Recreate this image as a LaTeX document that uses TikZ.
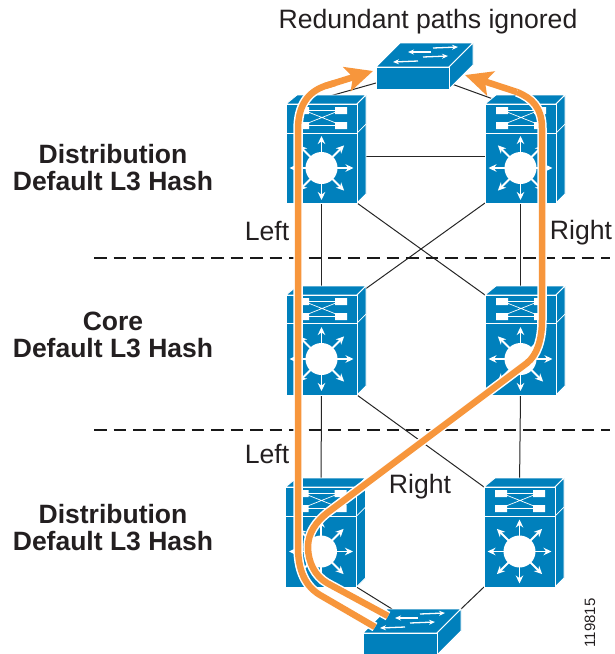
\documentclass[tikz,border=0pt]{standalone}
\usepackage{fontspec}
\setmainfont{Liberation Sans}
\usetikzlibrary{arrows.meta,backgrounds}
\definecolor{ciscoblue}{HTML}{0080BC}
\definecolor{pathorange}{HTML}{F7963C}
\definecolor{inktext}{HTML}{231F20}
\tikzset{
  anchorbox/.style={draw=none,inner sep=0pt,outer sep=0pt,rectangle},
  face/.style={fill=ciscoblue,draw=white,line width=0.9pt,line join=round},
  thinwhite/.style={draw=white,line width=0.7pt},
  whitearrow/.style={draw=white,line width=1.8pt,-{Stealth[length=8pt,width=7.5pt]}},
  swarrow/.style={draw=white,line width=1.3pt,-{Stealth[length=6pt,width=5pt]}},
  link/.style={draw=black!85,line width=1pt},
  zonedash/.style={draw=black!90,line width=2.4pt,dash pattern=on 12.5pt off 7pt},
  halo/.style={draw=white,line width=9.5pt},
  route/.style={draw=pathorange,line width=6.5pt},
  routetip/.style={draw=pathorange,line width=6.5pt,-{Stealth[length=27pt,width=25pt,inset=6pt]}},
  grouplabel/.style={font=\bfseries\fontsize{26.5}{27}\selectfont,text=inktext,align=center,anchor=center,inner sep=0pt},
  plainlabel/.style={font=\fontsize{26.6}{27}\selectfont,text=inktext,anchor=center,inner sep=0pt},
}
% name, x0, ytop, ysplit, ybot
\newcommand{\mlsdevice}[5]{%
  \pgfmathsetmacro{\ymid}{(#4+#5)/2}%
  \pgfmathsetmacro{\xmid}{#2+35.5}%
  \pgfmathsetmacro{\ycy}{(#3+#5)/2}%
  \node[anchorbox,minimum width=71pt,minimum height={(#5-#3)*1pt}] (#1) at (\xmid,\ycy) {};
  \begin{scope}[shift={(#2,0)}]
    \path[face] (0,#3) -- (11,#3-9) -- (80,#3-9) -- (71,#3) -- cycle;
    \path[face] (71,#3) -- (80,#3-9) -- (80,#5-9) -- (71,#5) -- cycle;
    \draw[thinwhite] (71,#4) -- (80,#4-9);
    \path[face] (0,#3) rectangle (71,#4);
    \path[face] (0,#4) rectangle (71,#5);
    \draw[thinwhite] (17,#3+6) -- (55,#3+6) (17,#3+21) -- (55,#3+21);
    \draw[thinwhite] (17,#3+6) -- (55,#3+21) (17,#3+21) -- (55,#3+6);
    \fill[white] (11,#3+3) rectangle (23,#3+10) (49,#3+3) rectangle (61,#3+10)
                 (11,#3+18) rectangle (23,#3+25) (49,#3+18) rectangle (61,#3+25);
    \begin{scope}[shift={(35.5,\ymid)}]
      \fill[white] (0,0) circle (16pt);
      \foreach \ang in {0,45,...,315}
        \draw[whitearrow] (\ang:15pt) -- (\ang:32pt);
    \end{scope}
  \end{scope}
}
% name, x0, y0 (front top-left), width
\newcommand{\swdevice}[4]{%
  \pgfmathsetmacro{\xmid}{#2+#4/2}%
  \pgfmathsetmacro{\ycy}{#3+11}%
  \node[anchorbox,minimum width=#4 pt,minimum height=22pt] (#1) at (\xmid,\ycy) {};
  \begin{scope}[shift={(#2,#3)}]
    \path[face] (0,0) -- (24,-24) -- (#4+24,-24) -- (#4,0) -- cycle;
    \path[face] (#4,0) -- (#4+24,-24) -- (#4+24,-2) -- (#4,22) -- cycle;
    \path[face] (0,0) rectangle (#4,22);
    \draw[swarrow] (55,-15) -- (32,-15);
    \draw[swarrow] (57,-19) -- (82,-20);
    \draw[swarrow] (47,-10) -- (72,-11);
    \draw[swarrow] (42,-6) -- (17,-5);
  \end{scope}
}
\begin{document}
\begin{tikzpicture}[x=1pt,y=-1pt]
\useasboundingbox (0,0) rectangle (614,654);

\mlsdevice{dtl}{286}{104}{133}{203}
\mlsdevice{dtr}{485}{104}{133}{203}
\mlsdevice{cl}{286}{295}{323}{395}
\mlsdevice{cr}{485}{295}{323}{395}
\mlsdevice{dbl}{285.5}{487}{516}{587}
\mlsdevice{dbr}{484}{487}{516}{587}
\swdevice{swt}{376}{67}{73}
\swdevice{swb}{363}{633}{74}

\begin{scope}[on background layer]
  \draw[link] ([yshift=5.6pt]dtl.north) -- ([yshift=-5pt]swt.west);
  \draw[link] ([yshift=-5pt]dtr.north) -- ([yshift=-5pt]swt.east);
  \draw[link] ([yshift=-2.5pt]dtl.center) -- ([yshift=-2.5pt]dtr.center);
  \draw[link] (dtl.south) -- (cl.north);
  \draw[link] (dtr.south) -- (cr.north);
  \draw[link] (dtl.south east) -- (cr.north west);
  \draw[link] (dtr.south west) -- (cl.north east);
  \draw[link] (cl.south) -- (dbl.north);
  \draw[link] (cr.south) -- (dbr.north);
  \draw[link] (cl.south east) -- (dbr.north west);
  \draw[link] (dbl.south east) -- ([shift={(-8pt,24pt)}]swb.north);
  \draw[link] (dbr.south west) -- ([shift={(61pt,24pt)}]swb.north);
\end{scope}

\coordinate (leftA) at (298,300);
\coordinate (rightA) at (542,230);
\coordinate (zoneA) at (94,258);
\coordinate (zoneAend) at (610,258);
\coordinate (zoneB) at (94,430);
\coordinate (zoneBend) at (610,430);
\draw[zonedash] (zoneA) -- (zoneAend);
\draw[zonedash] (zoneB) -- (zoneBend);

% left-hand route
\path[halo] (375,627) -- (320,595) .. controls (305,586) and (298,570) .. (298,547)
   -- (leftA) -- (298,130) .. controls (298,105) and (308,92) .. (325,86);
\draw[route,line cap=butt] (375,627) -- (320,595) .. controls (305,586) and (298,570) .. (298,547)
   -- (leftA) -- (298,130) .. controls (298,105) and (308,92) .. (325,86) -- (335,83);
\draw[routetip,line cap=butt] (325,86) -- (373,71);

% right-hand route
\path[halo] (388,616) -- (327,583) .. controls (315,576) and (308,562) .. (308,547)
   .. controls (308,533) and (316,522) .. (327,513) -- (527,363)
   .. controls (537,355) and (542,340) .. (542,320) -- (rightA) -- (542,128)
   .. controls (542,108) and (532,98) .. (517,92);
\draw[route,line cap=butt] (388,616) -- (327,583) .. controls (315,576) and (308,562) .. (308,547)
   .. controls (308,533) and (316,522) .. (327,513) -- (527,363)
   .. controls (537,355) and (542,340) .. (542,320) -- (rightA) -- (542,128)
   .. controls (542,108) and (532,98) .. (517,92);
\draw[routetip,line cap=butt] (517,92) -- (465,75);

\node[plainlabel] (title) at (428,22) {Redundant paths ignored};
\node[grouplabel] (g1) at (113,167.5) {Distribution\\Default L3 Hash};
\node[grouplabel] (g2) at (113,334.5) {Core\\Default L3 Hash};
\node[grouplabel] (g3) at (113,527.5) {Distribution\\Default L3 Hash};
\node[plainlabel] (l1) at (267,231) {Left};
\node[plainlabel] (r1) at (581,233) {Right};
\node[plainlabel] (l2) at (267,454) {Left};
\node[plainlabel] (r2) at (420,487) {Right};
\node[plainlabel,font=\fontsize{15}{15}\selectfont,rotate=90] (id) at (590,623) {119815};
\end{tikzpicture}
\end{document}
